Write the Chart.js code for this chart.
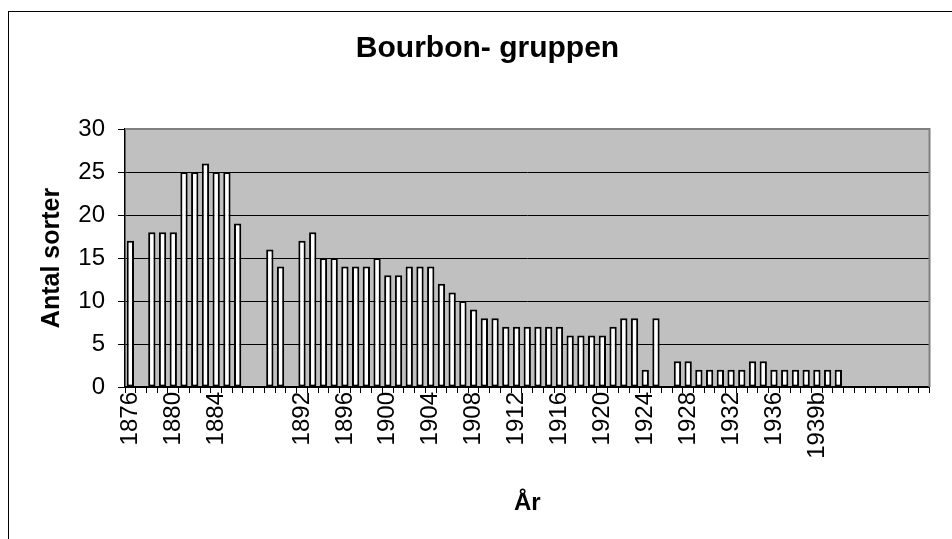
<!DOCTYPE html>
<html>
<head>
<meta charset="utf-8">
<script src="https://cdn.jsdelivr.net/npm/chart.js@4/dist/chart.umd.min.js"></script>
<style>
  body { margin: 0; background: #fff; }
  #wrap { position: relative; width: 952px; height: 539px; }
</style>
</head>
<body>
<div id="wrap"><canvas id="bourbon"></canvas></div>
<script>
// år (kategorier) - tomma etiketter där raden saknar text
const categories = [
  "1876","1877","1878","1879","1880","1881","1882","1883","1884","1885",
  "1886","","","1889","1890","1891","1892","1893","1894","1895",
  "1896","1897","1898","1899","1900","1901","1902","1903","1904","1905",
  "1906","1907","1908","1909","1910","1911","1912","1913","1914","1915",
  "1916","1917","1918","1919","1920","1921","1922","1923","1924","1925",
  "1926","1927","1928","1929","1930","1931","1932","1933","1934","1935",
  "1936","1937","1938","1939","1939b","1940","1941","","","",
  "","","","",""
];

// antal sorter per år
const antalSorter = [
  17, null, 18, 18, 18, 25, 25, 26, 25, 25,
  19, null, null, 16, 14, null, 17, 18, 15, 15,
  14, 14, 14, 15, 13, 13, 14, 14, 14, 12,
  11, 10, 9, 8, 8, 7, 7, 7, 7, 7,
  7, 6, 6, 6, 6, 7, 8, 8, 2, 8,
  null, 3, 3, 2, 2, 2, 2, 2, 3, 3,
  2, 2, 2, 2, 2, 2, 2, null, null, null,
  null, null, null, null, null
];

const yMin = 0;
const yMax = 30;
const yStep = 5;

const FONT = "'Liberation Sans', Arial, sans-serif";

// grå plotyta + ram runt hela diagrammet
const bakgrund = {
  id: 'bakgrund',
  beforeDraw(chart) {
    const ctx = chart.ctx;
    const a = chart.chartArea;
    ctx.save();
    ctx.fillStyle = '#fff';
    ctx.fillRect(0, 0, chart.width, chart.height);
    ctx.strokeStyle = '#000';
    ctx.lineWidth = 1;
    ctx.strokeRect(8.5, 11.5, 2000, 2000);
    ctx.fillStyle = '#c0c0c0';
    ctx.fillRect(a.left, a.top, a.right - a.left, a.bottom - a.top);
    ctx.restore();
  },
  beforeDatasetsDraw(chart) {
    const ctx = chart.ctx;
    const a = chart.chartArea;
    ctx.save();
    ctx.strokeStyle = '#808080';
    ctx.lineWidth = 2;
    ctx.beginPath();
    ctx.moveTo(a.left, a.top);
    ctx.lineTo(a.right, a.top);
    ctx.lineTo(a.right, a.bottom);
    ctx.stroke();
    ctx.restore();
  }
};

new Chart(document.getElementById('bourbon').getContext('2d'), {
  type: 'bar',
  data: {
    labels: categories,
    datasets: [{
      label: 'Antal sorter',
      data: antalSorter,
      backgroundColor: '#ffffff',
      borderColor: '#000000',
      borderWidth: 2,
      borderSkipped: false,
      barPercentage: 0.68,
      categoryPercentage: 1.0
    }]
  },
  options: {
    responsive: true,
    maintainAspectRatio: false,
    animation: false,
    layout: { padding: { left: 30, top: 0, right: 7, bottom: 0 } },
    plugins: {
      legend: { display: false },
      tooltip: { enabled: false },
      title: {
        display: true,
        text: 'Bourbon- gruppen',
        color: '#000',
        font: { family: FONT, size: 30, weight: 'bold' },
        padding: { top: 30.4, bottom: 62.6 }
      }
    },
    scales: {
      x: {
        afterFit(scale) { scale.height = 152; },
        grid: {
          offset: true,
          drawOnChartArea: false,
          drawTicks: true,
          tickLength: 6,
          color: '#000',
          lineWidth: 1
        },
        border: { color: '#000', width: 1.5 },
        ticks: {
          autoSkip: false,
          maxRotation: 90,
          minRotation: 90,
          padding: -1,
          color: '#000',
          font: { family: FONT, size: 24 },
          callback: function (value, index) {
            return index % 4 === 0 ? categories[index] : '';
          }
        },
        title: {
          display: true,
          text: 'År',
          color: '#000',
          font: { family: FONT, size: 24, weight: 'bold' },
          padding: { top: 0, bottom: 21.6 }
        }
      },
      y: {
        min: yMin,
        max: yMax,
        afterFit(scale) { scale.width = 95; },
        grid: {
          color: '#000',
          lineWidth: 1,
          drawTicks: true,
          tickLength: 7
        },
        border: { color: '#000', width: 1.5 },
        ticks: {
          stepSize: yStep,
          padding: 13,
          color: '#000',
          font: { family: FONT, size: 24 }
        },
        title: {
          display: true,
          text: 'Antal sorter',
          color: '#000',
          font: { family: FONT, size: 25, weight: 'bold' },
          padding: { top: 7, bottom: 0 }
        }
      }
    }
  },
  plugins: [bakgrund]
});
</script>
</body>
</html>
